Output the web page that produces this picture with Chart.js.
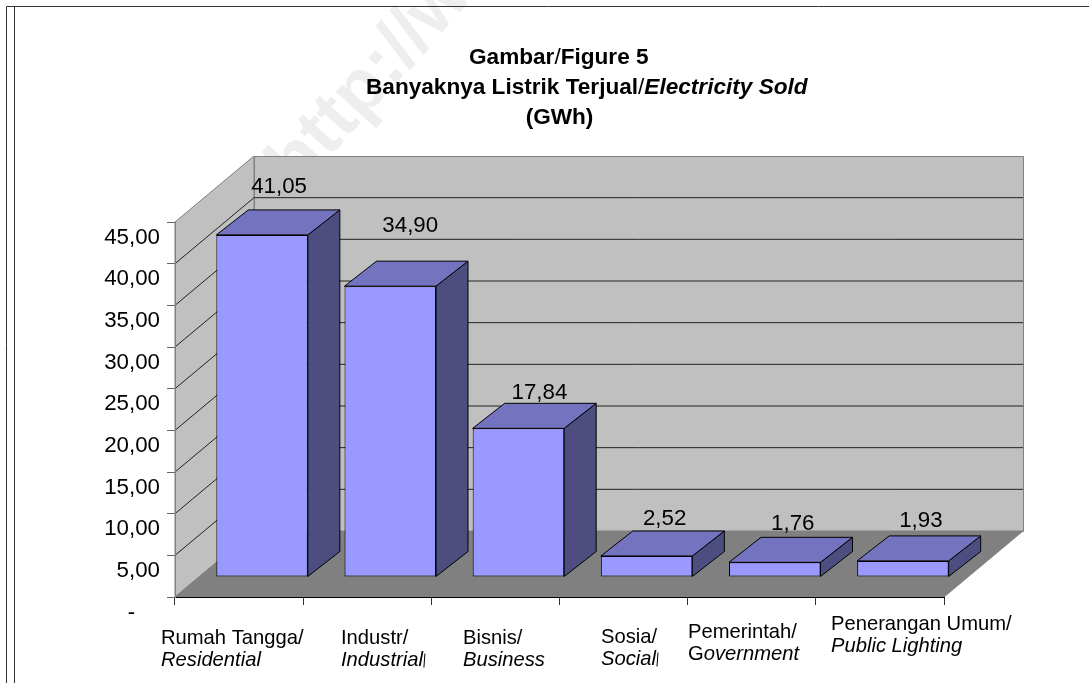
<!DOCTYPE html>
<html><head><meta charset="utf-8">
<style>html,body{margin:0;padding:0;background:#fff}canvas{display:block}</style>
<script src="https://cdn.jsdelivr.net/npm/chart.js@4"></script>
</head><body><div style="width:1089px;height:683px"><canvas id="c" width="1089" height="683"></canvas></div>
<script>
const categories = ["Rumah Tangga/ Residential","Industr/ Industrial","Bisnis/ Business","Sosia/ Social","Pemerintah/ Government","Penerangan Umum/ Public Lighting"];
const categoryLine1 = ["Rumah Tangga/","Industr/","Bisnis/","Sosia/","Pemerintah/","Penerangan Umum/"];
const categoryLine2 = ["Residential","Industrial","Business","Social","Government","Public Lighting"];
const values = [41.05,34.90,17.84,2.52,1.76,1.93];
const valueTexts = ["41,05","34,90","17,84","2,52","1,76","1,93"];
const yTicks = [0,5,10,15,20,25,30,35,40,45];

// hand placement of the free-floating text, as in the source picture
const valueLabelShift = [[17,-48],[20,-60],[21,-35],[18,-37],[18,-38],[18,-40]];
const catLabelLeft = [161,341,463,601,688,831];
const catLabelMid = [638,638,638,637,632,624];
const catUprightChars = [0,0,0,0,1,0];
const catClippedTail = [0,1,0,1,0,0];

const FONT = '"Liberation Sans", Arial, sans-serif';
const DEPTH = {dx:79, dy:66};      // wall depth
const PLANE = {dx:23, dy:20};      // where the bars stand
const BAR3D = {dx:32, dy:25};      // depth of every bar

function runs(ctx,x,y,list){
  list.forEach(([font,text])=>{
    ctx.font=font+' '+FONT;
    ctx.fillText(text,x,y);
    x+=ctx.measureText(text).width;
  });
  return x;
}

const fixed = {
  id:'fixed',
  beforeDraw(chart){
    const {ctx,chartArea:a,scales:{y}} = chart;
    ctx.save();
    ctx.fillStyle='#fff'; ctx.fillRect(0,0,chart.width,chart.height);
    // watermark
    ctx.save();
    ctx.translate(298,192); ctx.rotate(-48*Math.PI/180);
    ctx.font='bold 74px '+FONT; ctx.fillStyle='#eeeeee'; ctx.textBaseline='alphabetic';
    ctx.fillText('http://www.bps.go.id',0,0);
    ctx.restore();
    // page frame
    ctx.strokeStyle='#333'; ctx.lineWidth=1;
    ctx.beginPath();
    ctx.moveTo(6.5,683); ctx.lineTo(6.5,6.5); ctx.lineTo(1089,6.5);
    ctx.moveTo(14.5,683); ctx.lineTo(14.5,7);
    ctx.stroke();
    // walls
    const L=a.left,R=a.right,T=a.top,B=a.bottom,dx=DEPTH.dx,dy=DEPTH.dy;
    ctx.strokeStyle='#808080'; ctx.fillStyle='#c0c0c0';
    ctx.beginPath(); ctx.moveTo(L,B); ctx.lineTo(L,T); ctx.lineTo(L+dx,T-dy); ctx.lineTo(L+dx,B-dy); ctx.closePath(); ctx.fill(); ctx.stroke();
    ctx.beginPath(); ctx.rect(L+dx+.5,T-dy+.5,R-L,B-T); ctx.fill(); ctx.stroke();
    ctx.fillStyle='#808080';
    ctx.beginPath(); ctx.moveTo(L,B); ctx.lineTo(L+dx,B-dy); ctx.lineTo(R+dx,B-dy); ctx.lineTo(R,B); ctx.closePath(); ctx.fill(); ctx.stroke();
    // grid lines on both walls
    ctx.strokeStyle='#222';
    ctx.beginPath();
    yTicks.forEach(v=>{
      if(v===0||v===45) return;
      const p=y.getPixelForValue(v);
      ctx.moveTo(L,p); ctx.lineTo(L+dx,p-dy); ctx.lineTo(R+dx,p-dy);
    });
    ctx.stroke();
    ctx.restore();
  },
  beforeDatasetsDraw(chart){
    const {ctx}=chart;
    const bars=chart.getDatasetMeta(0).data;
    ctx.save();
    ctx.translate(PLANE.dx,-PLANE.dy);
    ctx.strokeStyle='#000'; ctx.lineWidth=1;
    bars.forEach(b=>{
      const l=b.x-b.width/2, r=b.x+b.width/2, t=b.y, f=b.base, dx=BAR3D.dx, dy=BAR3D.dy;
      ctx.fillStyle='#4d4d80';
      ctx.beginPath(); ctx.moveTo(r,t); ctx.lineTo(r+dx,t-dy); ctx.lineTo(r+dx,f-dy); ctx.lineTo(r,f); ctx.closePath(); ctx.fill(); ctx.stroke();
      ctx.fillStyle='#7373bf';
      ctx.beginPath(); ctx.moveTo(l,t); ctx.lineTo(l+dx,t-dy); ctx.lineTo(r+dx,t-dy); ctx.lineTo(r,t); ctx.closePath(); ctx.fill(); ctx.stroke();
    });
  },
  afterDatasetsDraw(chart){
    const {ctx}=chart;
    ctx.restore();
    const bars=chart.getDatasetMeta(0).data;
    ctx.save();
    ctx.fillStyle='#000'; ctx.strokeStyle='#000'; ctx.lineWidth=1; ctx.textBaseline='middle';
    // value labels
    ctx.font='22.3px '+FONT; ctx.textAlign='center';
    bars.forEach((b,i)=>{
      ctx.fillText(valueTexts[i], b.x+PLANE.dx+valueLabelShift[i][0], b.y-PLANE.dy+valueLabelShift[i][1]);
    });
    // category labels
    ctx.textAlign='left';
    catLabelLeft.forEach((x,i)=>{
      const m=catLabelMid[i], n=catUprightChars[i], t=categoryLine2[i];
      runs(ctx,x,m,[['20.2px',categoryLine1[i]]]);
      const end=runs(ctx,x,m+22.5,[['20.2px',t.slice(0,n)],['italic 20.2px',t.slice(n)]]);
      if(catClippedTail[i]){
        ctx.beginPath(); ctx.moveTo(end+1,m+29.5); ctx.lineTo(end+2,m+15.5); ctx.stroke();
      }
    });
    // title
    const b='bold 22.6px', r='22.6px', bi='italic bold 22.6px';
    runs(ctx,469,57.5,[[b,'Gambar'],[r,'/'],[b,'Figure 5']]);
    runs(ctx,366,88,[[b,'Banyaknya Listrik Terjual'],[r,'/'],[bi,'Electricity Sold']]);
    ctx.textAlign='center';
    ctx.font=b+' '+FONT;
    ctx.fillText('(GWh)',559.5,118);
    ctx.restore();
  }
};

new Chart(document.getElementById('c'),{
  type:'bar',
  data:{labels:categories,datasets:[{
    data:values, backgroundColor:'#9999ff', borderColor:'#000', borderWidth:1, borderSkipped:false,
    barPercentage:0.714, categoryPercentage:1, clip:false
  }]},
  options:{
    responsive:false, animation:false,
    layout:{padding:{top:222,right:145,bottom:0,left:0}},
    plugins:{legend:{display:false},tooltip:{enabled:false},title:{display:false}},
    scales:{
      x:{
        afterFit(s){s.height=86;},
        ticks:{display:false},
        border:{color:'#000'},
        grid:{drawOnChartArea:false,drawTicks:true,tickLength:8,color:'#333'}
      },
      y:{
        min:0,max:45,
        afterFit(s){s.width=175;},
        afterBuildTicks(s){s.ticks=yTicks.map(v=>({value:v}));},
        border:{color:'#808080'},
        grid:{drawOnChartArea:false,drawTicks:true,tickLength:8,color:'#666'},
        ticks:{
          color:'#000',padding:7,labelOffset:15.5,
          font:{family:FONT,size:22.3},
          callback:v=> v===0?'-    ':v.toFixed(2).replace('.',',')
        }
      }
    }
  },
  plugins:[fixed]
});
</script></body></html>
